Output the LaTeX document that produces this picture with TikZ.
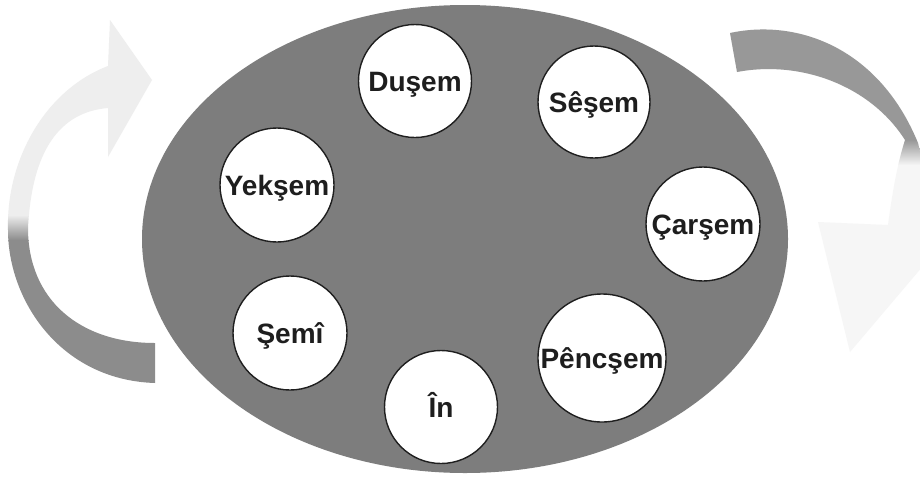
\documentclass[tikz,border=0pt]{standalone}
\usepackage{fontspec}
\setmainfont{Liberation Sans}
\usetikzlibrary{shapes.geometric}
\definecolor{fieldgrey}{RGB}{125,125,125}
\definecolor{arrowdark}{RGB}{140,140,140}
\definecolor{arrowdarkR}{RGB}{152,152,152}
\definecolor{arrowlight}{RGB}{238,238,238}
\definecolor{arrowlightR}{RGB}{246,246,246}
\definecolor{ink}{RGB}{30,30,30}
% outlines of the two curved arrows
\def\leftband{(155,383) .. controls (60,380) and (8,300) .. (8,230)
  .. controls (6,160) and (45,90) .. (108,66)
  -- (110,20) -- (152,80) -- (108,157) -- (108,108)
  .. controls (60,112) and (32,150) .. (28,228)
  .. controls (28,300) and (80,343) .. (155,343) -- cycle}
\def\rightband{(730,33) .. controls (800,18) and (880,50) .. (918,143)
  .. controls (925,170) and (926,200) .. (922,228)
  -- (945,240) -- (850,352) -- (818,222) -- (888,225)
  .. controls (892,195) and (897,165) .. (905,140)
  .. controls (870,85) and (800,60) .. (737,72) -- cycle}
\begin{document}
\begin{tikzpicture}[x=1pt,y=-1pt,
  daynode/.style={circle, draw=black!88, line width=1.4pt, fill=white,
    minimum size=#1, inner sep=0pt, text=ink,
    font=\fontsize{28}{30}\selectfont\bfseries,
    text height=20pt, text depth=0pt}]
  \useasboundingbox (0,0) rectangle (920,477);
  \fill[white] (0,0) rectangle (920,477);

  % left arrow: dark tail, pale head
  \begin{scope}
    \clip \leftband;
    \fill[arrowlight] (0,0) rectangle (200,215);
    \shade[top color=arrowlight, bottom color=arrowdark] (0,215) rectangle (200,240);
    \fill[arrowdark] (0,240) rectangle (200,477);
  \end{scope}

  % right arrow: dark tail, pale head
  \begin{scope}
    \clip (0,0) rectangle (920,477);
    \clip \rightband;
    \fill[arrowlightR] (700,0) rectangle (960,477);
    \fill[arrowdarkR] (700,0) rectangle (960,140);
    \shade[top color=arrowdarkR, bottom color=arrowlightR] (700,140) rectangle (960,165);
  \end{scope}

  % central field
  \node[ellipse, fill=fieldgrey, minimum width=646pt, minimum height=468pt,
        inner sep=0pt] (field) at (465,239) {};

  % the seven days
  \node[daynode=113pt] (dusem)   at (415,81)  {Duşem};
  \node[daynode=112pt] (sesem)   at (594,102) {Sêşem};
  \node[daynode=114pt] (yeksem)  at (277,185) {Yekşem};
  \node[daynode=114pt] (carsem)  at (703,224) {Çarşem};
  \node[daynode=114pt] (semi)    at (290,333) {Şemî};
  \node[daynode=128pt] (pencsem) at (602,358) {Pêncşem};
  \node[daynode=113pt] (in)      at (441,407) {În};
\end{tikzpicture}
\end{document}
